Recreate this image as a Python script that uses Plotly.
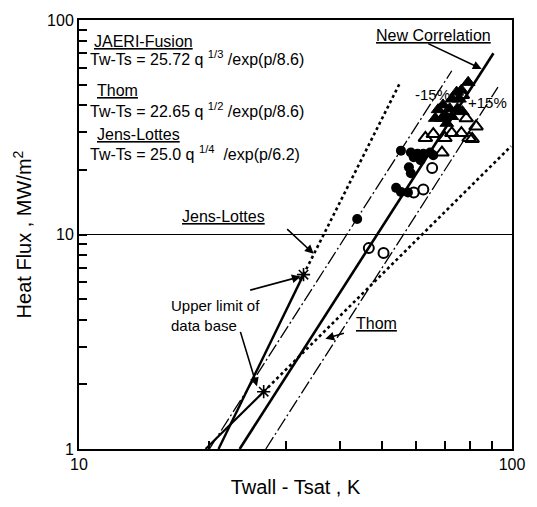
import plotly.graph_objects as go

# ---- measured data (Twall - Tsat [K], heat flux [MW/m2]) ----
ftri_dt = [79.2, 76.4, 74.5, 72.6, 75.6, 71.8, 74.8, 76.8, 70.0, 72.6, 68.9, 70.7, 67.5, 69.3, 66.5]
ftri_q = [51.2, 47.1, 46.1, 42.8, 42.8, 38.6, 38.6, 37.4, 36.2, 35.5, 34.8, 33.0, 38.2, 40.2, 34.8]

otri_dt = [82.6, 78.4, 79.6, 76.4, 72.6, 70.0, 65.8, 63.1, 68.9, 76.8, 80.9]
otri_q = [31.9, 34.8, 28.2, 29.7, 29.7, 28.2, 29.4, 28.2, 24.1, 44.7, 27.9]

fcir_dt = [55.4, 58.4, 60.5, 62.4, 64.7, 65.8, 61.5, 57.8, 58.4, 54.0, 55.4, 57.5, 43.9, 59.3]
fcir_q = [24.6, 24.1, 23.8, 23.8, 24.1, 23.4, 22.2, 20.6, 19.3, 16.5, 15.8, 15.7, 11.8, 22.9]

ocir_dt = [65.4, 62.4, 59.3, 46.7, 50.5]
ocir_q = [20.4, 16.2, 15.7, 8.64, 8.20]

# ---- correlation lines (end points) ----
new_dt = [23.5, 90.6]
new_q = [1.0, 70.0]
minus15_dt = [20.0, 72.6]
minus15_q = [1.0, 58.0]
plus15_dt = [27.0, 92.8]
plus15_q = [1.0, 48.6]

jl_solid_dt = [21.0, 33.0]
jl_solid_q = [1.0, 6.5]
jl_extra_dt = [33.0, 54.9]
jl_extra_q = [6.5, 50.1]

thom_solid_dt = [19.6, 26.7]
thom_solid_q = [1.0, 1.85]
thom_extra_dt = [26.7, 99.5]
thom_extra_q = [1.85, 25.8]

limit_dt = [33.0, 26.7]
limit_q = [6.5, 1.85]

ref_dt = [10, 100]
ref_q = [10, 10]

x_ticks = [10, 20, 30, 40, 50, 60, 70, 80, 90, 100]
x_labels = ["10", "", "", "", "", "", "", "", "", "100"]
y_ticks = [1, 2, 3, 4, 5, 6, 7, 8, 9, 10, 20, 30, 40, 50, 60, 70, 80, 90, 100]
y_labels = ["1"] + [""] * 8 + ["10"] + [""] * 8 + ["100"]

FONT = "Liberation Sans, Arial, sans-serif"
BLK = "black"

fig = go.Figure()


def line(x, y, width, dash="solid"):
    fig.add_trace(go.Scatter(x=x, y=y, mode="lines",
                             line=dict(color=BLK, width=width, dash=dash),
                             hoverinfo="skip", showlegend=False))


line(ref_dt, ref_q, 1.2)
line(new_dt, new_q, 2.6)
line(minus15_dt, minus15_q, 1.3, "14px,3px,2px,3px")
line(plus15_dt, plus15_q, 1.3, "14px,3px,2px,3px")
line(jl_solid_dt, jl_solid_q, 2.4)
line(jl_extra_dt, jl_extra_q, 2.6, "dot")
line(thom_solid_dt, thom_solid_q, 2.2)
line(thom_extra_dt, thom_extra_q, 2.6, "dot")

fig.add_trace(go.Scatter(x=limit_dt, y=limit_q, mode="markers",
                         marker=dict(symbol="asterisk-open", size=11, color=BLK,
                                     line=dict(color=BLK, width=1.6)),
                         hoverinfo="skip", showlegend=False))

fig.add_trace(go.Scatter(x=ftri_dt, y=ftri_q, mode="markers",
                         marker=dict(symbol="triangle-up", size=12, color=BLK,
                                     line=dict(color=BLK, width=1)),
                         showlegend=False))
fig.add_trace(go.Scatter(x=otri_dt, y=otri_q, mode="markers",
                         marker=dict(symbol="triangle-up-open", size=12, color=BLK,
                                     line=dict(color=BLK, width=2)),
                         showlegend=False))
fig.add_trace(go.Scatter(x=fcir_dt, y=fcir_q, mode="markers",
                         marker=dict(symbol="circle", size=10, color=BLK),
                         showlegend=False))
fig.add_trace(go.Scatter(x=ocir_dt, y=ocir_q, mode="markers",
                         marker=dict(symbol="circle-open", size=10, color=BLK,
                                     line=dict(color=BLK, width=2)),
                         showlegend=False))

ann = []


def text(s, x, y, size=16, xanchor="left"):
    ann.append(dict(text=s, x=x, y=y, xref="paper", yref="paper", showarrow=False,
                    xanchor=xanchor, yanchor="middle", align="left",
                    font=dict(family=FONT, size=size, color=BLK)))


def arrow(x, y, ax, ay):
    ann.append(dict(text="", x=x, y=y, xref="paper", yref="paper", ax=ax, ay=ay,
                    showarrow=True, arrowhead=2, arrowsize=1.1, arrowwidth=1.6,
                    arrowcolor=BLK))


text("<u>JAERI-Fusion</u>", 0.029, 0.95)
text("Tw-Ts = 25.72 q <sup>1/3</sup> /exp(p/8.6)", 0.020, 0.911)
text("<u>Thom</u>", 0.038, 0.836)
text("Tw-Ts = 22.65 q <sup>1/2</sup> /exp(p/8.6)", 0.020, 0.791)
text("<u>Jens-Lottes</u>", 0.038, 0.734)
text("Tw-Ts = 25.0 q <sup>1/4</sup>  /exp(p/6.2)", 0.020, 0.689)
text("<u>New Correlation</u>", 0.818, 0.964, xanchor="center")
text("<u>Jens-Lottes</u>", 0.333, 0.541, xanchor="center")
text("-15%", 0.816, 0.827, size=15, xanchor="center")
text("+15%", 0.944, 0.807, size=15, xanchor="center")
text("Upper limit of<br>data base", 0.209, 0.311, size=15)
text("<u>Thom</u>", 0.688, 0.293, xanchor="center")

arrow(0.930, 0.886, -55, -26)
arrow(0.542, 0.455, -28, -26)
arrow(0.512, 0.402, -52, 14)
arrow(0.411, 0.146, -17, -56)
arrow(0.569, 0.257, 20, -6)

axis_common = dict(
    type="log", showgrid=False, zeroline=False,
    showline=True, linecolor=BLK, linewidth=2, mirror=True,
    ticks="inside", ticklen=8, tickwidth=2, tickcolor=BLK,
    layer="above traces",
    tickfont=dict(family=FONT, size=16, color=BLK),
)

fig.update_xaxes(
    range=[1, 2], tickmode="array", tickvals=x_ticks, ticktext=x_labels,
    title=dict(text="Twall - Tsat , K", font=dict(family=FONT, size=20, color=BLK),
               standoff=8),
    **axis_common,
)
fig.update_yaxes(
    range=[0, 2], tickmode="array", tickvals=y_ticks, ticktext=y_labels,
    title=dict(text="Heat Flux , MW/m<sup>2</sup>",
               font=dict(family=FONT, size=20, color=BLK), standoff=10),
    **axis_common,
)

fig.update_layout(
    width=537, height=507,
    margin=dict(l=79, r=13, t=16, b=51),
    paper_bgcolor="white", plot_bgcolor="white",
    annotations=ann,
)

fig.write_html("out.html")
